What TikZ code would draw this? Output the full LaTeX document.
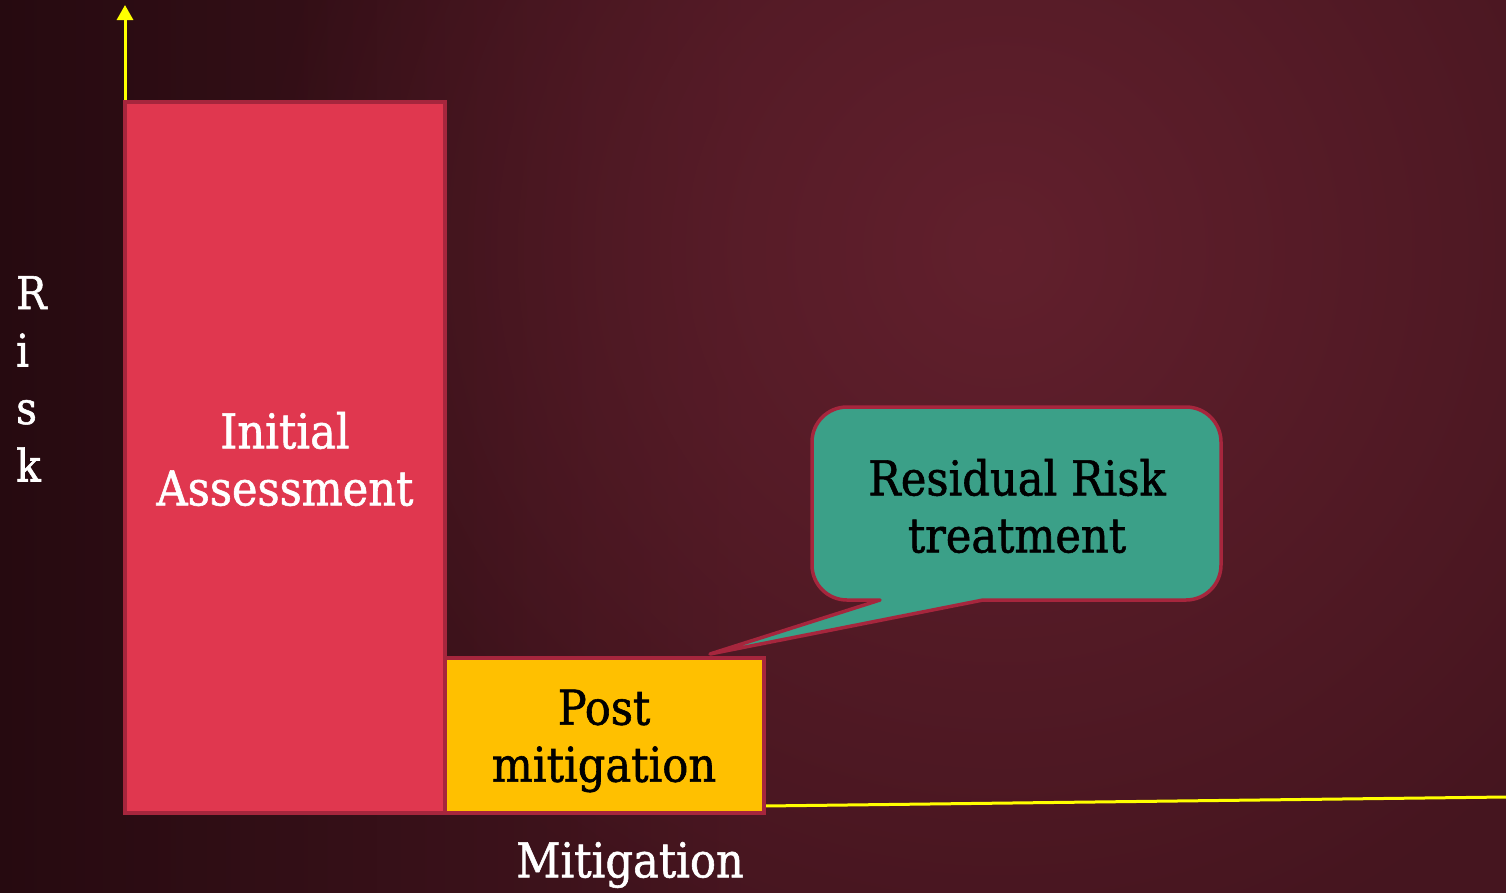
\documentclass[tikz,border=0pt]{standalone}
\usepackage{fontspec}
\setmainfont{DejaVu Serif Condensed}[FakeBold=1.2]
\usetikzlibrary{arrows.meta,fadings}
\definecolor{bgdark}{HTML}{260A10}
\definecolor{bgmid}{HTML}{45151F}
\definecolor{bglight}{HTML}{62202D}
\definecolor{barred}{HTML}{E0374F}
\definecolor{baryellow}{HTML}{FFC000}
\definecolor{edgered}{HTML}{A6263D}
\definecolor{teal}{HTML}{3BA088}
\definecolor{axisyellow}{HTML}{FFFF00}
\tikzfading[name=radfade, inner color=transparent!0, outer color=transparent!100]
\tikzset{
  bar/.style={draw=edgered, line width=3.5pt},
  axis/.style={draw=axisyellow, line width=3pt},
  label/.style={font=\fontsize{48}{57}\selectfont, align=center, inner sep=0pt},
  callout/.style={draw=edgered, line width=3.5pt, fill=teal, line join=round},
}
\begin{document}
\begin{tikzpicture}[x=1pt,y=-1pt]
\useasboundingbox (0,0) rectangle (1506,892);
% background
\shade[left color=bgdark, right color=bgmid, middle color=bgmid] (0,0) rectangle (1506,892);
\begin{scope}
\clip (0,0) rectangle (1506,892);
\fill[bglight, path fading=radfade] (1000,250) circle (750);
\end{scope}
% axes
\coordinate (yb) at (125,100);
\coordinate (yt) at (125,5);
\draw[axis, -{Triangle[width=16pt,length=15pt]}] (yb) -- (yt);
\coordinate (xa) at (764,806);
\coordinate (xb) at (1506,797);
\draw[axis] (xa) -- (xb);
% bars
\draw[bar, fill=barred] (125,102) rectangle (445,813);
\node[label, text=white] (ia) at (285,459) {Initial\\Assessment};
\draw[bar, fill=baryellow] (445,658) rectangle (764,813);
\node[label, text=black] (pm) at (604,741) {Post\\mitigation};
% callout
\draw[callout] (983,600) -- (710,654) -- (880,600) -- (847,600)
  .. controls (827.67,600) and (812,584.33) .. (812,565) -- (812,442)
  .. controls (812,422.67) and (827.67,407) .. (847,407) -- (1186,407)
  .. controls (1205.33,407) and (1221,422.67) .. (1221,442) -- (1221,565)
  .. controls (1221,584.33) and (1205.33,600) .. (1186,600) -- cycle;
\node[label, text=black] (rr) at (1017,506) {Residual Risk\\treatment};
% axis labels
\node[label, text=white] (mit) at (630,865) {Mitigation};
\node[font=\fontsize{45}{57.5}\selectfont, text=white, align=left, inner sep=0pt, anchor=north west] (risk) at (16,276) {R\\i\\s\\k};
\end{tikzpicture}
\end{document}
